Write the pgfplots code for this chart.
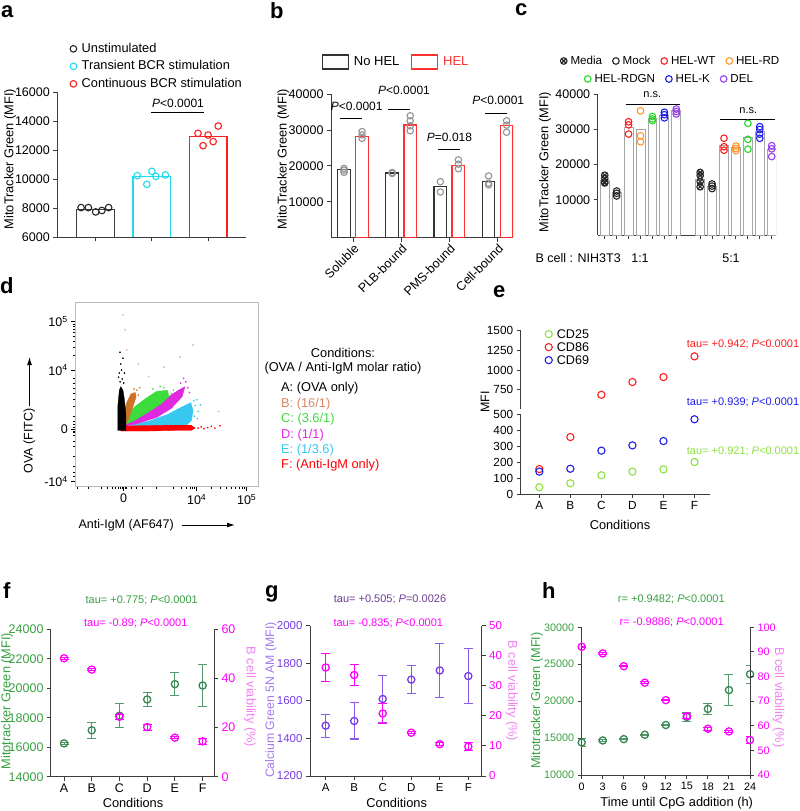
\documentclass[border=0pt]{standalone}
\usepackage{fontspec}
\setmainfont{Liberation Sans}
\usepackage{pgfplots}
\pgfplotsset{compat=1.18}
\usetikzlibrary{arrows.meta}

\definecolor{axgray}{RGB}{60,60,60}
\definecolor{cyanA}{RGB}{30,220,235}
\definecolor{redA}{RGB}{255,30,30}
\definecolor{redB}{RGB}{255,50,50}
\definecolor{orgC}{RGB}{255,150,40}
\definecolor{grnC}{RGB}{40,215,40}
\definecolor{bluC}{RGB}{30,30,235}
\definecolor{purC}{RGB}{150,60,235}
\definecolor{cd25}{RGB}{140,225,60}
\definecolor{mgreen}{RGB}{55,135,80}
\definecolor{lgreen}{RGB}{55,160,65}
\definecolor{mag}{RGB}{255,0,255}
\definecolor{lmag}{RGB}{240,130,240}
\definecolor{gpur}{RGB}{120,60,230}
\definecolor{lpur}{RGB}{165,120,240}
\definecolor{dpur}{RGB}{110,60,150}
\definecolor{salm}{RGB}{215,135,100}
\definecolor{cyanD}{RGB}{55,200,240}
\definecolor{magD}{RGB}{225,40,225}
\definecolor{grnD}{RGB}{60,220,60}
\definecolor{orgD}{RGB}{205,115,35}

\newcommand{\fs}[1]{\fontsize{#1}{#1}\selectfont}

\pgfplotsset{
  base/.style={
    scale only axis, anchor=south west,
    axis line style={axgray, line width=1pt},
    every tick/.style={axgray, line width=1pt},
    tick align=outside, major tick length=4pt,
    tick label style={font=\fs{12.5}},
    /pgf/number format/assume math mode=true,
    /pgf/number format/1000 sep={},
    scaled x ticks=false, scaled y ticks=false,
    axis x line*=bottom, axis y line*=left,
    legend cell align=left,
  },
  markleg/.style={legend image code/.code={\draw[##1] plot coordinates {(0pt,0pt)};}},
  leg/.style={draw=none, fill=none, inner sep=0pt, outer sep=0pt,
    nodes={inner sep=1.5pt, text height=9pt, text depth=2.5pt}},
  pts/.style={only marks, mark=o, mark size=3.3pt, line width=1.1pt},
  ebar/.style={error bars/.cd, y dir=both, y explicit,
    error bar style={line width=1pt, #1},
    error mark options={rotate=90, mark size=4.5pt, line width=1pt, #1}},
}

\begin{document}
\begin{tikzpicture}
\path[use as bounding box] (0pt,0pt) rectangle (800pt,-811pt);
\clip (0pt,0pt) rectangle (800pt,-811pt);

% panel letters
\foreach \l/\x/\y in {a/1/17, b/270/18, c/515/16, d/0/293, e/493/297, f/3/598, g/265/597, h/542/598}
  \node[anchor=base west, inner sep=0pt, font=\fs{22}\bfseries] at (\x pt,-\y pt) {\l};

%%%%%%%%%%%%%%%% panel a
\begin{axis}[base, at={(57.3pt,-237.3pt)}, width=188.7pt, height=145pt,
  xmin=0.317, xmax=3.674, ymin=6000, ymax=16000, ytick={6000,8000,...,16000},
  xtick={1,2,3}, xticklabels={,,}, axis on top, markleg,
  legend style={leg, at={(0.068,1.36)}, anchor=north west, font=\fs{12.8},
    nodes={text height=10pt, text depth=3.5pt, inner sep=2pt},
    /tikz/every odd column/.append style={column sep=3pt}}]
\addplot[ybar, bar width=0.67, draw=black!75, fill=white, line width=1.2pt, forget plot] coordinates {(1,7900)};
\addplot[ybar, bar width=0.67, draw=cyanA, fill=white, line width=1.2pt, forget plot] coordinates {(2,10180)};
\addplot[ybar, bar width=0.67, draw=redA, fill=white, line width=1.2pt, forget plot] coordinates {(3,12970)};
\addplot[pts, color=black!85] coordinates {(0.74,8050)(0.87,8050)(1.0,7750)(1.11,7850)(1.23,8050)};
\addlegendentry{Unstimulated}
\addplot[pts, color=cyanA] coordinates {(1.74,10250)(1.91,9650)(2.0,10550)(2.07,10200)(2.24,10300)};
\addlegendentry{Transient BCR stimulation}
\addplot[pts, color=redA] coordinates {(2.82,13170)(2.91,12320)(3.0,13055)(3.09,12600)(3.18,13675)};
\addlegendentry{Continuous BCR stimulation}
\addplot[black, line width=1pt, forget plot] coordinates {(1.98,14640)(2.93,14640)};
\end{axis}
\node[rotate=90, font=\fs{12.8}] at (10pt,-159pt) {MitoTracker Green (MFI)};
\node[font=\fs{12}] at (178pt,-103pt) {\textit{P}<0.0001};

%%%%%%%%%%%%%%%% panel b
\begin{axis}[base, at={(331pt,-237.5pt)}, width=182pt, height=143.2pt,
  xmin=0.543, xmax=4.32, ymin=0, ymax=40000, ytick={10000,20000,30000,40000},
  xtick={1,2,3,4}, xticklabels={Soluble,PLB-bound,PMS-bound,Cell-bound},
  xticklabel style={rotate=45, anchor=north east, font=\fs{12.5}, inner sep=1pt},
  legend columns=2,
  legend image code/.code={\draw[#1] (0pt,-7pt) rectangle (26pt,7pt);},
  legend style={leg, at={(-0.051,1.2256)}, anchor=west, font=\fs{13},
    /tikz/every odd column/.append style={column sep=3.5pt},
    /tikz/every even column/.append style={column sep=10pt}}]
\addlegendimage{draw=black!80, fill=white, line width=1.2pt}
\addlegendentry{No HEL}
\addlegendimage{draw=redB, fill=white, line width=1.2pt}
\addlegendentry{\textcolor{redB}{HEL}}
\addplot[ybar, bar width=0.262, draw=black!80, fill=white, line width=1.2pt, forget plot]
  coordinates {(0.813,18900)(1.813,18000)(2.813,14200)(3.813,15600)};
\addplot[ybar, bar width=0.262, draw=redB, fill=white, line width=1.2pt, forget plot]
  coordinates {(1.187,28200)(2.187,31400)(3.187,20100)(4.187,31200)};
\addplot[pts, mark size=3.2pt, draw=gray!85, fill=gray!15, mark options={fill=gray!15}, forget plot]
  coordinates {(0.813,19300)(0.813,18800)(0.813,18200)
  (1.187,29600)(1.187,28650)(1.187,27700)
  (1.813,18000)(1.813,18150)(1.813,17900)
  (2.187,34000)(2.187,32600)(2.187,31200)(2.187,29800)
  (2.813,15600)(2.813,12700)
  (3.187,21700)(3.187,20500)(3.187,19200)
  (3.813,17200)(3.813,15200)(3.813,14700)
  (4.187,32600)(4.187,31400)(4.187,29400)};
\addplot[black, line width=1pt, forget plot] coordinates {(0.73,33300)(1.18,33300)};
\addplot[black, line width=1pt, forget plot] coordinates {(1.733,35800)(2.183,35800)};
\addplot[black, line width=1pt, forget plot] coordinates {(2.77,24600)(3.22,24600)};
\addplot[black, line width=1pt, forget plot] coordinates {(3.74,34700)(4.19,34700)};
\end{axis}
\node[rotate=90, font=\fs{12.8}] at (283.3pt,-159pt) {MitoTracker Green (MFI)};
\node[font=\fs{12}] at (356.7pt,-106pt) {\textit{P}<0.0001};
\node[font=\fs{12}] at (404pt,-90pt) {\textit{P}<0.0001};
\node[font=\fs{12}] at (449.5pt,-137.3pt) {\textit{P}=0.018};
\node[font=\fs{12}] at (498.3pt,-100pt) {\textit{P}<0.0001};

%%%%%%%%%%%%%%%% panel c
\begin{axis}[base, at={(597.7pt,-235pt)}, width=178.3pt, height=140.7pt,
  xmin=0.41, xmax=15.36, ymin=0, ymax=40000, ytick={10000,20000,30000,40000},
  xtick={1,2,3,4,5,6,7,9,10,11,12,13,14,15}, xticklabels={,,,,,,,,,,,,,,}, markleg,
  legend columns=4,
  legend style={leg, at={(-0.209,1.2367)}, anchor=west, font=\fs{11.6},
    /tikz/every odd column/.append style={column sep=2pt},
    /tikz/every even column/.append style={column sep=9pt}}]
\addplot[ybar, bar width=0.75, draw=gray!70, fill=white, line width=0.9pt, forget plot]
  coordinates {(1,15450)(2,12050)(3,30600)(4,30050)(5,33200)(6,34100)(7,35300)
  (9,15900)(10,13900)(11,25600)(12,24800)(13,27700)(14,29400)(15,24200)};
\addplot[pts, mark=otimes, color=black!85] coordinates {(1,17000)(1,16100)(1,15000)(1,14800)(9,17800)(9,16900)(9,15200)(9,13700)};
\addlegendentry{Media}
\addplot[pts, color=black!85] coordinates {(2,12500)(2,11850)(2,11100)(10,14500)(10,13900)(10,13200)};
\addlegendentry{Mock}
\addplot[pts, color=redA] coordinates {(3,32200)(3,31300)(3,28700)(11,27500)(11,25100)(11,24100)};
\addlegendentry{HEL-WT}
\addplot[pts, color=orgC] coordinates {(4,35300)(4,28200)(4,26500)(12,25300)(12,24600)(12,24000)};
\addlegendentry{HEL-RD}
\addplot[pts, color=grnC, forget plot] coordinates {(5,33700)(5,33000)(5,32500)(13,31750)(13,27200)(13,24400)};
\addplot[pts, color=bluC, forget plot] coordinates {(6,34900)(6,34200)(6,33300)(14,30800)(14,30000)(14,28700)(14,27500)};
\addplot[pts, color=purC, forget plot] coordinates {(7,35800)(7,35100)(7,34400)(15,25400)(15,24500)(15,22300)};
\addplot[black, line width=1pt, forget plot] coordinates {(2.76,37200)(7.33,37200)};
\addplot[black, line width=1pt, forget plot] coordinates {(10.69,32750)(15.25,32750)};
\end{axis}
\begin{axis}[base, at={(597.7pt,-235pt)}, width=178.3pt, height=140.7pt, hide axis,
  xmin=0, xmax=1, ymin=0, ymax=1, markleg, legend columns=3,
  legend style={leg, at={(-0.0746,1.109)}, anchor=west, font=\fs{11.6},
    /tikz/every odd column/.append style={column sep=2pt},
    /tikz/every even column/.append style={column sep=9pt}}]
\addlegendimage{pts, color=grnC}
\addlegendentry{HEL-RDGN}
\addlegendimage{pts, color=bluC}
\addlegendentry{HEL-K}
\addlegendimage{pts, color=purC}
\addlegendentry{DEL}
\end{axis}
\node[rotate=90, font=\fs{12.8}] at (545pt,-162pt) {MitoTracker Green (MFI)};
\node[font=\fs{11}] at (652.3pt,-95pt) {n.s.};
\node[font=\fs{11}] at (748.3pt,-111pt) {n.s.};
\node[anchor=west, font=\fs{12.5}] at (532pt,-258pt) {B cell : NIH3T3};
\node[font=\fs{12.5}] at (640pt,-258pt) {1:1};
\node[font=\fs{12.5}] at (731pt,-258pt) {5:1};

%%%%%%%%%%%%%%%% panel d
\begin{axis}[at={(75.3pt,-486.7pt)}, anchor=south west, scale only axis, width=183.4pt, height=184pt,
  xmin=-0.663, xmax=1.849, ymin=-0.968, ymax=2.135,
  axis line style={gray!55, line width=0.7pt},
  tick pos=left, tick align=outside,
  every tick/.style={black, line width=0.8pt},
  major tick length=4pt, minor tick length=2.5pt,
  tick label style={font=\fs{12.5}},
  xtick={0,1,1.685}, xticklabels={0,10\textsuperscript{4},10\textsuperscript{5}},
  ytick={-0.884,0,1,1.814}, yticklabels={-10\textsuperscript{4},0,10\textsuperscript{4},10\textsuperscript{5}},
  minor xtick={-0.64,-0.48,-0.3,-0.23,-0.16,-0.12,-0.07,-0.04,-0.02,0.02,0.04,0.11,0.18,0.25,0.45,0.68,0.79,0.86,0.91,0.945,0.97,1.206,1.327,1.412,1.479,1.533,1.579,1.619,1.654},
  minor ytick={-0.79,-0.73,-0.62,-0.45,-0.28,-0.2,-0.11,-0.06,-0.03,0.03,0.08,0.13,0.22,0.39,0.5,0.61,0.69,0.78,0.86,1.245,1.388,1.49,1.569,1.633,1.688,1.735,1.776}]
\addplot[fill=cyanD, draw=cyanD, line width=0.3pt] coordinates {(-0.02,0.02)(0.3,0.04)(0.6,0.05)(0.85,0.06)(0.93,0.15)(0.95,0.32)(0.92,0.45)(0.8,0.38)(0.6,0.25)(0.35,0.14)(0.1,0.07)} --cycle;
\addplot[only marks, mark=*, mark size=0.6pt, color=cyanD] coordinates {(0.98,0.4)(1.02,0.3)(1.05,0.41)(0.97,0.22)(1.0,0.5)(0.96,0.48)(1.01,0.18)};
\addplot[fill=magD, draw=magD, line width=0.3pt] coordinates {(-0.01,0.04)(0.2,0.1)(0.45,0.2)(0.65,0.35)(0.8,0.55)(0.84,0.72)(0.75,0.66)(0.55,0.5)(0.35,0.36)(0.15,0.2)} --cycle;
\addplot[only marks, mark=*, mark size=0.6pt, color=magD] coordinates {(0.85,0.8)(0.88,0.7)(0.82,0.86)(0.9,0.62)(0.78,0.78)};
\addplot[fill=grnD, draw=grnD, line width=0.3pt] coordinates {(-0.02,0.06)(0.15,0.15)(0.35,0.3)(0.5,0.42)(0.62,0.55)(0.6,0.66)(0.45,0.64)(0.3,0.52)(0.15,0.38)(0.03,0.2)} --cycle;
\addplot[only marks, mark=*, mark size=0.6pt, color=grnD] coordinates {(0.65,0.6)(0.55,0.7)(0.68,0.66)(0.4,0.68)(0.5,0.72)};
\addplot[fill=orgD, draw=orgD, line width=0.3pt] coordinates {(-0.03,0.05)(0.05,0.12)(0.12,0.35)(0.17,0.55)(0.16,0.62)(0.1,0.6)(0.04,0.45)(0.0,0.3)(-0.03,0.15)} --cycle;
\addplot[only marks, mark=*, mark size=0.6pt, color=orgD] coordinates {(0.18,0.66)(0.2,0.58)(0.14,0.68)(0.22,0.7)};
\addplot[fill=red, draw=red, line width=0.3pt] coordinates {(-0.04,-0.03)(0.3,-0.03)(0.7,-0.02)(0.92,-0.02)(0.98,0.02)(0.92,0.07)(0.6,0.07)(0.2,0.06)(-0.04,0.05)} --cycle;
\addplot[only marks, mark=*, mark size=0.6pt, color=red] coordinates {(1.02,0.02)(1.06,0.04)(1.1,0.01)(1.15,0.03)(1.2,0.05)(1.25,0.02)(1.32,0.06)};
\addplot[fill=black, draw=black, line width=0.3pt] coordinates {(-0.08,-0.02)(0.03,-0.02)(0.03,0.25)(0.01,0.5)(-0.01,0.66)(-0.04,0.72)(-0.06,0.66)(-0.08,0.4)} --cycle;
\addplot[only marks, mark=*, mark size=0.6pt, color=black] coordinates {(-0.05,0.8)(-0.02,0.85)(-0.06,0.95)(-0.03,1.0)(-0.04,1.1)(0.0,0.78)(-0.07,0.88)(-0.01,1.2)(-0.05,1.3)(0.01,0.95)};
\addplot[only marks, mark=*, mark size=0.7pt, color=salm!60] coordinates {(-0.005,1.93)(0.02,1.68)(0.04,1.34)(0.34,0.89)(0.95,1.42)(0.77,1.22)(0.55,1.05)(0.2,1.1)(1.3,0.3)};
\end{axis}
\node[rotate=90, font=\fs{12.5}] at (29.5pt,-441pt) {OVA (FITC)};
\draw[-{Latex[length=8pt,width=5pt]}, line width=1pt] (29.5pt,-406pt) -- (29.5pt,-357pt);
\node[font=\fs{12.5}] at (126.2pt,-525pt) {Anti-IgM (AF647)};
\draw[-{Latex[length=8pt,width=5pt]}, line width=1pt] (181.7pt,-525pt) -- (235pt,-525pt);
\node[font=\fs{12.8}] at (343pt,-352.7pt) {Conditions:};
\node[font=\fs{12.8}] at (343pt,-368pt) {(OVA / Anti-IgM molar ratio)};
\node[anchor=west, font=\fs{12.8}, inner sep=0pt] at (281pt,-388.3pt) {A: (OVA only)};
\node[anchor=west, font=\fs{12.8}, inner sep=0pt, text=salm] at (281pt,-404pt) {B: (16/1)};
\node[anchor=west, font=\fs{12.8}, inner sep=0pt, text=grnD] at (281pt,-419.3pt) {C: (3.6/1)};
\node[anchor=west, font=\fs{12.8}, inner sep=0pt, text=magD] at (281pt,-434.7pt) {D: (1/1)};
\node[anchor=west, font=\fs{12.8}, inner sep=0pt, text=cyanD] at (281pt,-450pt) {E: (1/3.6)};
\node[anchor=west, font=\fs{12.8}, inner sep=0pt, text=red] at (281pt,-465.3pt) {F: (Anti-IgM only)};

%%%%%%%%%%%%%%%% panel e
\begin{axis}[base, at={(520.7pt,-409.4pt)}, width=189.3pt, height=78.7pt,
  tick label style={font=\fs{11.8}},
  xmin=0.4, xmax=6.5, ymin=500, ymax=1500, ytick={750,1000,1250,1500},
  axis x line=none, markleg,
  legend style={leg, at={(0.129,1.039)}, anchor=north west, font=\fs{12.6},
    nodes={text height=9pt, text depth=1pt, inner sep=1.5pt},
    /tikz/every odd column/.append style={column sep=3pt}}]
\addlegendimage{pts, mark size=3.6pt, color=cd25}
\addlegendentry{CD25}
\addlegendimage{pts, mark size=3.6pt, color=redA}
\addlegendentry{CD86}
\addlegendimage{pts, mark size=3.6pt, color=bluC}
\addlegendentry{CD69}
\addplot[pts, mark size=3.6pt, color=redA, forget plot] coordinates {(3,686)(4,848)(5,911)(6,1174)};
\end{axis}
\begin{axis}[base, at={(520.7pt,-494pt)}, width=189.3pt, height=80pt,
  tick label style={font=\fs{11.8}},
  xmin=0.4, xmax=6.5, ymin=0, ymax=500, ytick={0,100,...,500},
  xtick={1,...,6}, xticklabels={A,B,C,D,E,F}]
\addplot[pts, mark size=3.6pt, color=cd25] coordinates {(1,42)(2,67)(3,117)(4,140)(5,154)(6,200)};
\addplot[pts, mark size=3.6pt, color=redA] coordinates {(1,156)(2,356)};
\addplot[pts, mark size=3.6pt, color=bluC] coordinates {(1,140)(2,158)(3,271)(4,304)(5,331)(6,467)};
\end{axis}
\node[rotate=90, font=\fs{12.5}] at (485pt,-402pt) {MFI};
\node[font=\fs{12.8}] at (620pt,-525pt) {Conditions};
\node[anchor=west, inner sep=0pt, font=\fs{11}, text=redA] at (686.7pt,-344pt) {tau= +0.942; \textit{P}<0.0001};
\node[anchor=west, inner sep=0pt, font=\fs{11}, text=bluC] at (686.7pt,-402.7pt) {tau= +0.939; \textit{P}<0.0001};
\node[anchor=west, inner sep=0pt, font=\fs{11}, text=cd25] at (686.7pt,-451.7pt) {tau= +0.921; \textit{P}<0.0001};

%%%%%%%%%%%%%%%% panel f
\begin{axis}[base, at={(51pt,-776.7pt)}, width=163pt, height=147.4pt,
  xmin=0.53, xmax=6.41, ymin=14000, ymax=24000, ytick={14000,16000,...,24000},
  xtick={1,...,6}, xticklabels={A,B,C,D,E,F}, yticklabel style={text=lgreen}]
\addplot[pts, mark size=3.6pt, line width=1.3pt, color=mgreen, ebar={mgreen!85}]
  coordinates {(1,16260)+-(0,80)(2,17150)+-(0,560)(3,18140)+-(0,820)(4,19240)+-(0,470)(5,20280)+-(0,800)(6,20190)+-(0,1420)};
\end{axis}
\begin{axis}[base, at={(51pt,-776.7pt)}, width=163pt, height=147.4pt,
  xmin=0.53, xmax=6.41, ymin=0, ymax=60, ytick={0,20,40,60},
  axis y line*=right, axis x line=none, yticklabel style={text=mag}]
\addplot[pts, mark size=3.6pt, line width=1.3pt, color=mag, ebar={mag}]
  coordinates {(1,48.2)+-(0,0.5)(2,43.6)+-(0,0.5)(3,24.4)+-(0,1)(4,20.2)+-(0,1.2)(5,15.9)+-(0,0.5)(6,14.4)+-(0,1.3)};
\end{axis}
\node[font=\fs{11}, text=lgreen] at (141.7pt,-600pt) {tau= +0.775; \textit{P}<0.0001};
\node[font=\fs{11}, text=mag] at (135.8pt,-623.3pt) {tau= -0.89; \textit{P}<0.0001};
\node[rotate=90, font=\fs{12.8}, text=lgreen] at (7pt,-701pt) {Mitotracker Green (MFI)};
\node[rotate=-90, font=\fs{12.8}, text=lmag] at (250pt,-697pt) {B cell viability (\%)};
\node[font=\fs{12.8}] at (133pt,-803pt) {Conditions};

%%%%%%%%%%%%%%%% panel g
\begin{axis}[base, at={(310pt,-776pt)}, width=171.7pt, height=150.3pt,
  tick label style={font=\fs{11.5}},
  xmin=0.45, xmax=6.47, ymin=1200, ymax=2000, ytick={1200,1400,...,2000},
  xtick={1,...,6}, xticklabels={A,B,C,D,E,F}, yticklabel style={text=gpur}]
\addplot[pts, mark size=3.6pt, line width=1.3pt, color=gpur, ebar={gpur!85}]
  coordinates {(1,1468)+-(0,61)(2,1493)+-(0,96)(3,1610)+-(0,123)(4,1713)+-(0,73)(5,1762)+-(0,142)(6,1732)+-(0,145)};
\end{axis}
\begin{axis}[base, at={(310pt,-776pt)}, width=171.7pt, height=150.3pt,
  tick label style={font=\fs{11.5}},
  xmin=0.45, xmax=6.47, ymin=0, ymax=50, ytick={0,10,...,50},
  axis y line*=right, axis x line=none, yticklabel style={text=mag}]
\addplot[pts, mark size=3.6pt, line width=1.3pt, color=mag, ebar={mag}]
  coordinates {(1,36.1)+-(0,4.7)(2,33.6)+-(0,3.5)(3,20.8)+-(0,3.3)(4,14.4)+-(0,0.4)(5,10.6)+-(0,0.4)(6,9.8)+-(0,1.4)};
\end{axis}
\node[font=\fs{11}, text=dpur] at (390pt,-599.3pt) {tau= +0.505; \textit{P}=0.0026};
\node[font=\fs{11}, text=mag] at (388.3pt,-623.3pt) {tau= -0.835; \textit{P}<0.0001};
\node[rotate=90, font=\fs{12.3}, text=lpur] at (271pt,-700pt) {Calcium Green 5N AM (MFI)};
\node[rotate=-90, font=\fs{12.8}, text=lmag] at (511.7pt,-691pt) {B cell viability (\%)};
\node[font=\fs{12.8}] at (396.7pt,-803pt) {Conditions};

%%%%%%%%%%%%%%%% panel h
\begin{axis}[base, at={(581.7pt,-775pt)}, width=168.3pt, height=147.7pt,
  tick label style={font=\fs{10.8}},
  xmin=0, xmax=24, ymin=10000, ymax=30000, ytick={10000,15000,...,30000},
  xtick={0,3,...,24}, yticklabel style={text=lgreen}]
\addplot[pts, mark size=3.6pt, line width=1.3pt, color=mgreen, ebar={mgreen!85}]
  coordinates {(0,14410)+-(0,570)(3,14680)+-(0,100)(6,14860)+-(0,100)(9,15450)+-(0,100)(12,16770)+-(0,100)(15,17860)+-(0,570)(18,18950)+-(0,750)(21,21500)+-(0,2100)(24,23650)+-(0,1200)};
\end{axis}
\begin{axis}[base, at={(581.7pt,-775pt)}, width=168.3pt, height=147.7pt,
  tick label style={font=\fs{10.8}},
  xmin=0, xmax=24, ymin=40, ymax=100, ytick={40,50,...,100},
  axis y line*=right, axis x line=none, yticklabel style={text=mag}]
\addplot[pts, mark size=3.6pt, line width=1.3pt, color=mag, ebar={mag}]
  coordinates {(0,92.1)+-(0,0.3)(3,89.4)+-(0,0.3)(6,84.2)+-(0,0.3)(9,77.5)+-(0,0.3)(12,70.4)+-(0,0.3)(15,63.9)+-(0,1)(18,58.8)+-(0,0.7)(21,57.7)+-(0,0.3)(24,54.2)+-(0,1.5)};
\end{axis}
\node[font=\fs{11}, text=lgreen] at (671.3pt,-599.3pt) {r= +0.9482; \textit{P}<0.0001};
\node[font=\fs{11}, text=mag] at (671.7pt,-622.7pt) {r= -0.9886; \textit{P}<0.0001};
\node[rotate=90, font=\fs{12.8}, text=lgreen] at (536.7pt,-700.5pt) {Mitotracker Green (MFI)};
\node[rotate=-90, font=\fs{12.8}, text=lmag] at (778.3pt,-697.5pt) {B cell viability (\%)};
\node[font=\fs{12.8}] at (676.7pt,-803pt) {Time until CpG addition (h)};
\end{tikzpicture}
\end{document}
